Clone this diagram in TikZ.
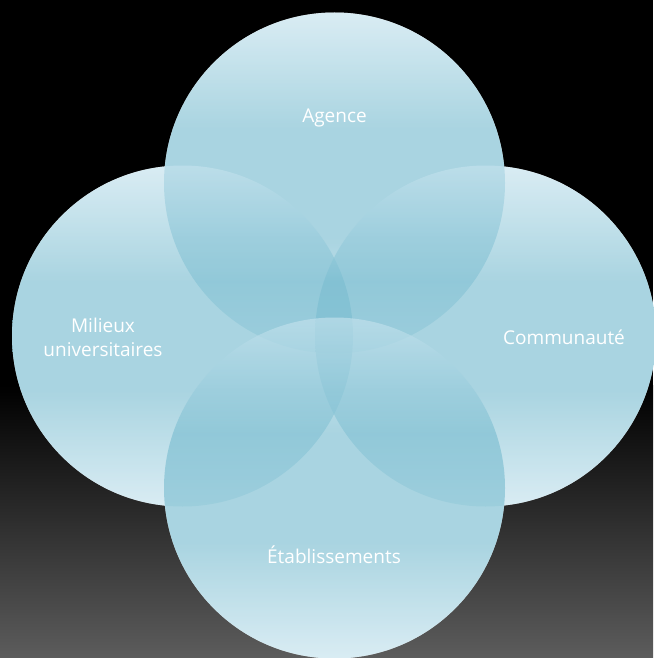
\documentclass[tikz,border=0pt]{standalone}
\usepackage{fontspec}
\setmainfont{Open Sans}
\definecolor{cT}{RGB}{198,227,238}
\definecolor{cM}{RGB}{124,190,209}
\definecolor{bgbot}{RGB}{92,92,92}
\pgfdeclareverticalshading{circshade}{100bp}{color(0bp)=(cT); color(25bp)=(cT); color(42bp)=(cM); color(58bp)=(cM); color(75bp)=(cT); color(100bp)=(cT)}
\tikzset{
  vennbase/.style={circle, inner sep=0pt, minimum size=341pt, fill=white},
  venn/.style={circle, inner sep=0pt, minimum size=341pt, shading=circshade, fill opacity=0.65},
  lbl/.style={text=white, font=\fontsize{19}{24}\selectfont, align=center, inner sep=0pt}
}
\begin{document}
\begin{tikzpicture}[x=1pt,y=-1pt]
\useasboundingbox (0,0) rectangle (653,658);
\fill[black] (0,0) rectangle (653,658);
\shade[top color=black, bottom color=bgbot] (0,385) rectangle (653,658);
\coordinate (pT) at (334.5,183);
\coordinate (pL) at (182.5,336);
\coordinate (pR) at (485.5,336);
\coordinate (pB) at (334.5,488);
\node[vennbase] at (pT) {};
\node[vennbase] at (pL) {};
\node[vennbase] at (pR) {};
\node[vennbase] at (pB) {};
\node[venn] (cTop) at (pT) {};
\node[venn] (cLeft) at (pL) {};
\node[venn] (cRight) at (pR) {};
\node[venn] (cBot) at (pB) {};
\node[lbl, anchor=base] (tA) at (334.5,122) {Agence};
\node[lbl, anchor=base] (tM) at (103,356) {Milieux\\universitaires};
\node[lbl, anchor=base] (tC) at (564,344) {Communauté};
\node[lbl, anchor=base] (tE) at (334,563) {Établissements};
\end{tikzpicture}
\end{document}
